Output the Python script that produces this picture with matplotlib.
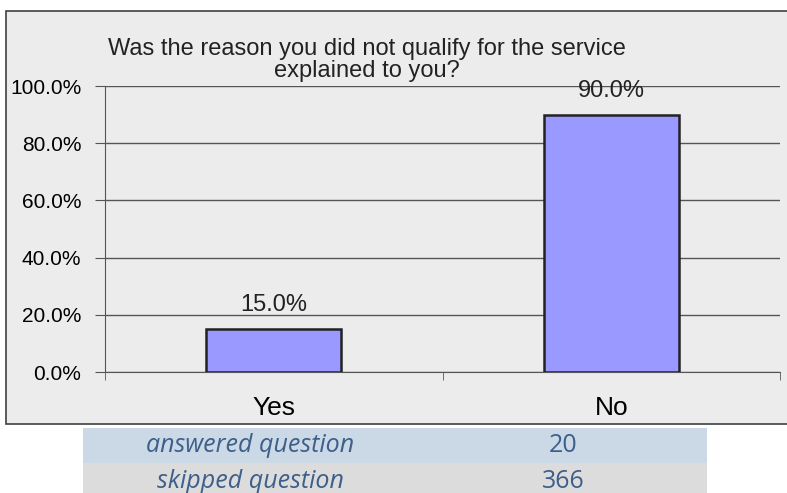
import matplotlib.pyplot as plt
from matplotlib.patches import Rectangle
from matplotlib.ticker import PercentFormatter

categories = ["Yes", "No"]
percents = [15.0, 90.0]
summary_labels = ["answered question", "skipped question"]
summary_counts = ["20", "366"]

narrow = ["Liberation Sans Narrow", "Liberation Sans", "DejaVu Sans"]

fig = plt.figure(figsize=(7.87, 4.93), dpi=100)
fig.patch.set_facecolor("white")

# chart frame
fig.patches.append(Rectangle((6 / 787, 1 - 424 / 493), 790 / 787, 413 / 493,
                             transform=fig.transFigure, facecolor="#ececec",
                             edgecolor="#404040", linewidth=1.2, zorder=-2))

ax = fig.add_axes([105 / 787, 121 / 493, 675 / 787, 286 / 493])
ax.set_facecolor("none")
ax.set_zorder(2)
x = range(len(categories))
bars = ax.bar(x, percents, width=0.4, color="#9999ff", edgecolor="#222222",
              linewidth=1.8, zorder=3)
for b, v in zip(bars, percents):
    ax.text(b.get_x() + b.get_width() / 2, v + 4.5, f"{v:.1f}%", ha="center",
            va="bottom", fontsize=17, family=narrow, color="#222222", zorder=4)

ax.set_xlim(-0.5, 1.5)
ax.set_ylim(0, 100)
ax.set_yticks(range(0, 101, 20))
ax.yaxis.set_major_formatter(PercentFormatter(decimals=1))
ax.grid(axis="y", color="#555555", linewidth=1, zorder=1)
ax.set_xticks(list(x))
ax.set_xticklabels(categories, fontsize=19, family=narrow)
ax.set_xticks([-0.5, 0.5, 1.5], minor=True)
ax.tick_params(axis="x", which="major", length=0, pad=17)
ax.tick_params(axis="x", which="minor", length=6, direction="out", color="#555555")
ax.tick_params(axis="y", length=7, direction="out", color="#555555", labelsize=15, pad=10)
for lbl in ax.get_yticklabels():
    lbl.set_family(narrow)
for s in ["top", "right"]:
    ax.spines[s].set_visible(False)
for s in ["left", "bottom"]:
    ax.spines[s].set_color("#555555")

fig.text(367 / 787, 1 - 60 / 493, "Was the reason you did not qualify for the service\nexplained to you?",
         ha="center", va="center", fontsize=17, family=narrow,
         color="#222222", linespacing=1.05)

# summary table under the chart
row_colors = ["#cbd8e6", "#dcdcdc"]
row_tops = [428, 463]
row_h = [35, 32]
for lab, cnt, col, top, h in zip(summary_labels, summary_counts, row_colors, row_tops, row_h):
    fig.patches.append(Rectangle((83 / 787, 1 - (top + h) / 493), 624 / 787, h / 493,
                                 transform=fig.transFigure, facecolor=col,
                                 edgecolor="none", zorder=-2))
    yc = 1 - (top + 18) / 493
    fig.text(250 / 787, yc, lab, ha="center", va="center", fontsize=18,
             style="italic", color="#3d5f8a", family=["Open Sans", "DejaVu Sans"])
    fig.text(563 / 787, yc, cnt, ha="center", va="center", fontsize=18,
             color="#3d5f8a", family=["Open Sans", "DejaVu Sans"])

fig.savefig("out.png", dpi=100)
